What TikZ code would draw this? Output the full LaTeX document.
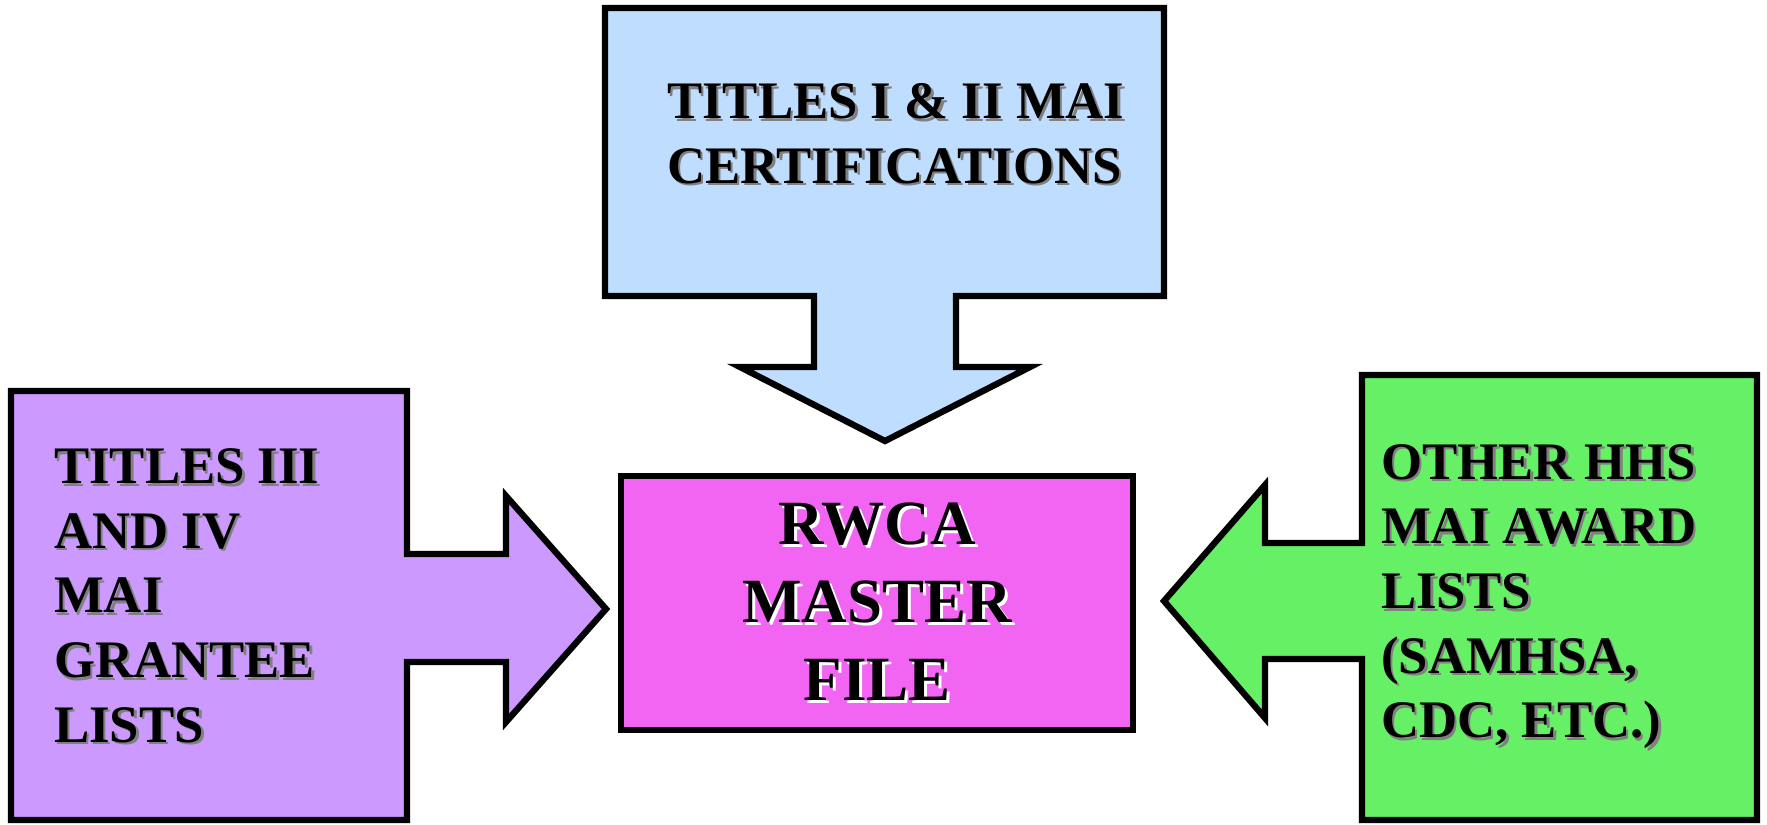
\documentclass[tikz,border=0pt]{standalone}
\usepackage{fontspec}
\setmainfont{Liberation Serif}

\definecolor{skyfill}{HTML}{BFDDFF}
\definecolor{lilacfill}{HTML}{CC99FF}
\definecolor{pinkfill}{HTML}{F264F2}
\definecolor{limefill}{HTML}{66F066}

% text with a small offset shadow behind it
\newcommand{\shd}[2]{\makebox[0pt][l]{\hspace{0.05em}\raisebox{-0.05em}{\textcolor{#1}{#2}}}#2}

\begin{document}
\begin{tikzpicture}[x=0.01cm, y=-0.01cm, line width=1.8pt, line join=miter,
  srctext/.style={anchor=west, inner sep=0pt, align=left,
    font=\bfseries\fontsize{15}{18.4}\selectfont}]

  \useasboundingbox (0,0) rectangle (1767,824);

  % Top block with its arrow pointing down
  \draw[fill=skyfill] (605,8) -- (1164,8) -- (1164,296) -- (956,296) -- (956,367)
    -- (1030,367) -- (885,441) -- (740,367) -- (814,367) -- (814,296)
    -- (605,296) -- cycle;
  \node[srctext] (titles12) at (664,135)
    {\shd{gray}{TITLES I \& II MAI}\\ \shd{gray}{CERTIFICATIONS}};

  % Left block with its arrow pointing right
  \draw[fill=lilacfill] (11,391) -- (407,391) -- (407,554) -- (506,554) -- (506,496)
    -- (606,609) -- (506,722) -- (506,662) -- (407,662) -- (407,820)
    -- (11,820) -- cycle;
  \node[srctext] (titles34) at (51,597)
    {\shd{gray}{TITLES III}\\ \shd{gray}{AND IV}\\ \shd{gray}{MAI}\\
     \shd{gray}{GRANTEE}\\ \shd{gray}{LISTS}};

  % Right block with its arrow pointing left
  \draw[fill=limefill] (1757,375) -- (1362,375) -- (1362,543) -- (1265,543) -- (1265,485)
    -- (1164,601) -- (1265,718) -- (1265,659) -- (1362,659) -- (1362,820)
    -- (1757,820) -- cycle;
  \node[srctext] (otherhhs) at (1378,598)
    {\shd{gray}{OTHER HHS}\\ \shd{gray}{MAI AWARD}\\ \shd{gray}{LISTS}\\
     \shd{gray}{(SAMHSA,}\\ \shd{gray}{CDC, ETC.)}};

  % Master file in the middle
  \node[draw, fill=pinkfill, minimum width=5.12cm, minimum height=2.54cm,
    inner sep=0pt, align=center, font=\bfseries\fontsize{17.9}{22.2}\selectfont]
    (master) at (877,603)
    {\shd{white}{RWCA}\\ \shd{white}{MASTER}\\ \shd{white}{FILE}};

\end{tikzpicture}
\end{document}
